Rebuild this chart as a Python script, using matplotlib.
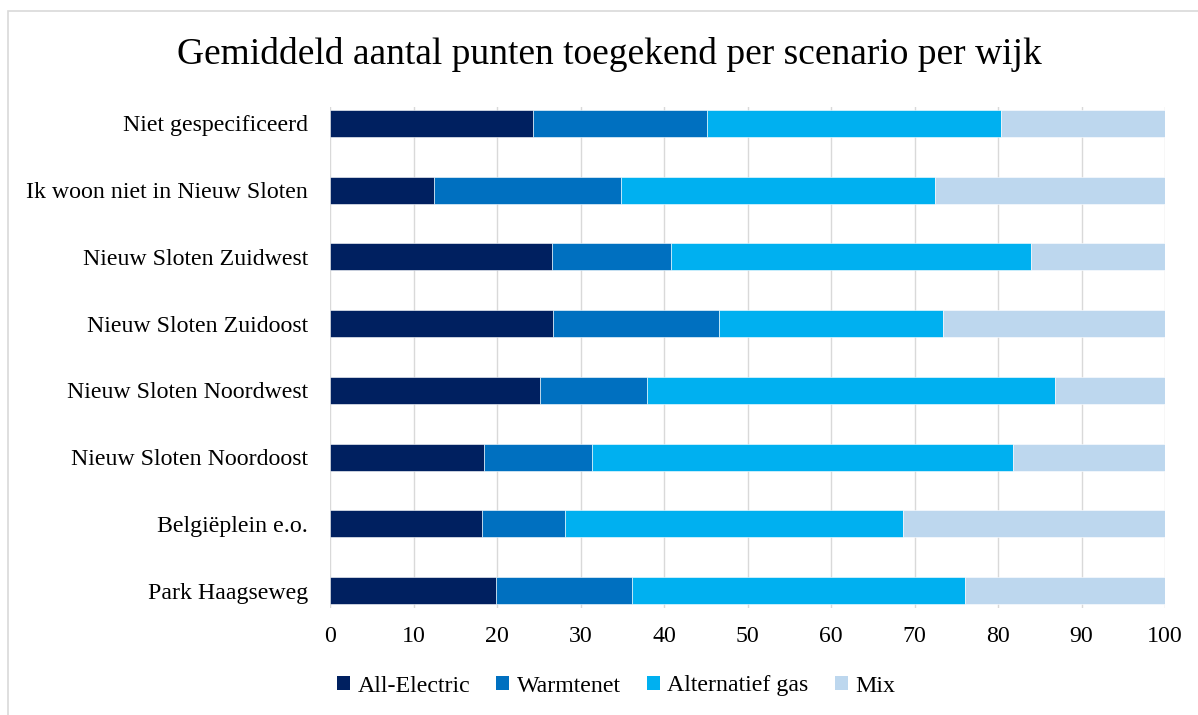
import numpy as np
import matplotlib
matplotlib.use("Agg")
import matplotlib.pyplot as plt
from matplotlib.patches import Rectangle, Patch

# data, bottom -> top
wijken = ['Park Haagseweg', 'Belgiëplein e.o.', 'Nieuw Sloten Noordoost',
          'Nieuw Sloten Noordwest', 'Nieuw Sloten Zuidoost', 'Nieuw Sloten Zuidwest',
          'Ik woon niet in Nieuw Sloten', 'Niet gespecificeerd']
all_electric = [19.9, 18.2, 18.4, 25.2, 26.7, 26.6, 12.4, 24.3]
warmtenet = [16.3, 9.9, 13.0, 12.8, 19.9, 14.2, 22.5, 20.9]
alternatief_gas = [39.9, 40.5, 50.4, 48.8, 26.8, 43.1, 37.6, 35.2]
mix = [23.9, 31.4, 18.2, 13.2, 26.6, 16.1, 27.5, 19.6]
series_names = ['All-Electric', 'Warmtenet', 'Alternatief gas', 'Mix']
kleuren = ['#002060', '#0070C0', '#00B0F0', '#BDD7EE']

plt.rcParams['font.family'] = ['Liberation Serif', 'DejaVu Serif']

fig = plt.figure(figsize=(11.98, 7.15), dpi=100)
# light chart border
fig.patches.append(Rectangle((8/1198, -0.1), 1.2, 1 - 11/715 + 0.1,
                             transform=fig.transFigure, fill=False,
                             edgecolor='#d9d9d9', lw=1.2))

ax = fig.add_axes([330/1198, 1 - 608/715, 835/1198, 501/715])

y = np.arange(len(wijken))
links = np.zeros(len(wijken))
for waarden, naam, kleur in zip([all_electric, warmtenet, alternatief_gas, mix],
                                series_names, kleuren):
    ax.barh(y, waarden, left=links, height=0.405, color=kleur,
            edgecolor='white', linewidth=0.4, label=naam, zorder=3)
    links = links + np.array(waarden)

ax.set_xlim(0, 100)
ax.set_ylim(-0.262, 7.247)
ax.set_xticks(range(0, 101, 10))
ax.set_yticks(y)
ax.set_yticklabels(wijken)
ax.grid(axis='x', color='#d9d9d9', lw=1.0, zorder=0)
for s in ax.spines.values():
    s.set_visible(False)
ax.tick_params(axis='both', length=0, labelsize=17.2)
ax.tick_params(axis='y', pad=16)
ax.tick_params(axis='x', pad=13)

fig.text(609/1198, 1 - 55/715, 'Gemiddeld aantal punten toegekend per scenario per wijk',
         ha='center', va='center', fontsize=27)

handles = [Patch(facecolor=k, edgecolor='none') for k in kleuren]
fig.legend(handles, series_names, loc='center', bbox_to_anchor=(616/1198, 1 - 686/715),
           ncol=4, frameon=False, prop={'family': 'Liberation Serif', 'size': 17.2},
           handlelength=0.55, handleheight=0.55, handletextpad=0.3, columnspacing=1.1)

fig.savefig('out.png', dpi=100)
